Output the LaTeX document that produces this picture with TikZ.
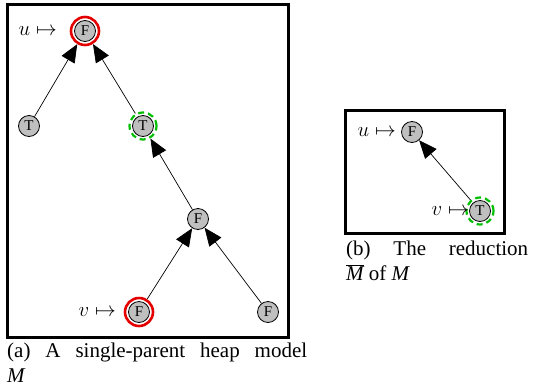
\documentclass[tikz,border=0pt]{standalone}
\usepackage{fontspec}
\setmainfont{Liberation Serif}
\usetikzlibrary{arrows.meta}
\begin{document}
\begin{tikzpicture}[x=1pt,y=-1pt,
  hn/.style={circle, draw=black, line width=0.8pt, fill=black!25, minimum size=21pt, inner sep=0pt, font=\fontsize{15}{16}\selectfont},
  redring/.style={circle, draw=red!90!black, line width=2.6pt, minimum size=28pt, inner sep=0pt},
  greenring/.style={circle, draw=green!75!black, line width=2.2pt, dash pattern=on 6pt off 4pt, minimum size=27pt, inner sep=0pt},
  linkarrow/.style={line width=0.7pt, -{Triangle[length=18pt,width=15pt]}},
  boxframe/.style={draw, line width=3pt},
  ptrlabel/.style={font=\fontsize{20}{24}\selectfont, inner sep=0pt, anchor=east},
  captext/.style={anchor=north west, align=justify, inner sep=0pt, font=\fontsize{21}{25}\selectfont}
]
\useasboundingbox (0,0) rectangle (534,391);
% panel (a)
\draw[boxframe] (7,4) rectangle (288,337);
\node[redring] (a1) at (85,31) {};
\node[hn] (a1c) at (85,31) {$\mathrm{F}$};
\node[hn] (a2) at (29,126) {$\mathrm{T}$};
\node[greenring] (a3) at (143,126) {};
\node[hn] (a3c) at (143,126) {$\mathrm{T}$};
\node[hn] (a4) at (198,219) {$\mathrm{F}$};
\node[redring] (a5) at (139,312) {};
\node[hn] (a5c) at (139,312) {$\mathrm{F}$};
\node[hn] (a6) at (268,312) {$\mathrm{F}$};
\draw[linkarrow] (a2) -- (a1);
\draw[linkarrow] (a3) -- (a1);
\draw[linkarrow] (a4) -- (a3);
\draw[linkarrow] (a5) -- (a4);
\draw[linkarrow] (a6) -- (a4);
\node[ptrlabel] (lu) at (57,31) {$u\mapsto$};
\node[ptrlabel] (lv) at (116,312) {$v\mapsto$};
% panel (b)
\draw[boxframe] (345,110) rectangle (504,233);
\node[hn] (b1) at (412,132) {$\mathrm{F}$};
\node[greenring] (b2) at (480,211) {};
\node[hn] (b2c) at (480,211) {$\mathrm{T}$};
\draw[linkarrow] (b2) -- (b1);
\node[ptrlabel] (ru) at (396,132) {$u\mapsto$};
\node[ptrlabel] (rv) at (469,211) {$v\mapsto$};
% captions
\node[captext, text width=300pt] (capa) at (7,343) {\tolerance=9999\relax\hbadness=10000\relax
(a) A single-parent heap model\linebreak\textit{M}};
\node[captext, text width=182pt] (capb) at (346,241) {\tolerance=9999\relax\hbadness=10000\relax
(b) The reduction\linebreak$\overline{\hbox{\itshape M}}$ of \textit{M}};
\end{tikzpicture}
\end{document}
